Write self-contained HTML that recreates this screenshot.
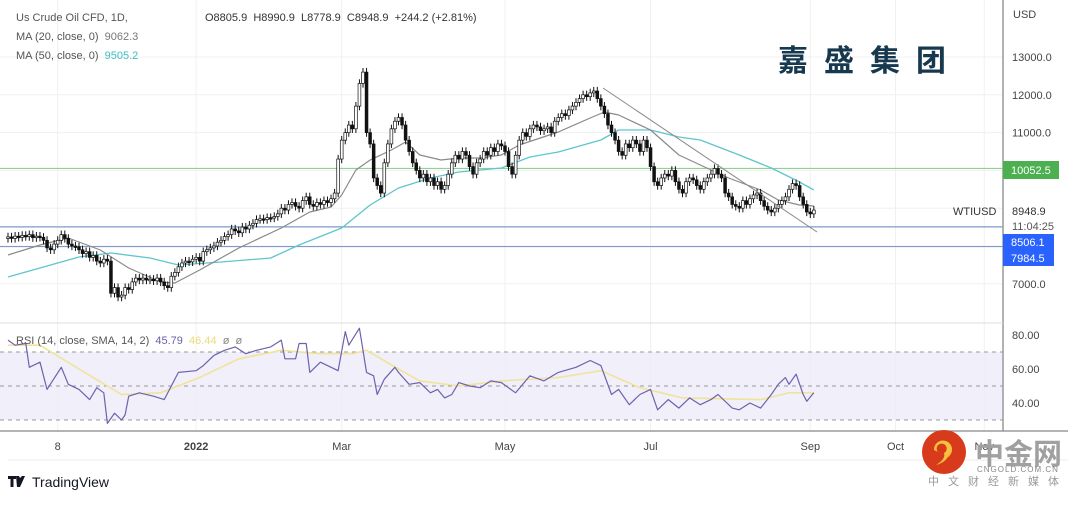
<!DOCTYPE html>
<html><head><meta charset="utf-8">
<style>
html,body{margin:0;padding:0;background:#fff;}
body{width:1080px;height:500px;position:relative;overflow:hidden;font-family:"Liberation Sans","Noto Sans CJK SC",sans-serif;}
svg text{font-family:"Liberation Sans","Noto Sans CJK SC",sans-serif;}
</style></head>
<body>
<svg id="chart" width="1080" height="500" viewBox="0 0 1080 500" xmlns="http://www.w3.org/2000/svg">
  <g id="grid"></g>
  <rect x="0" y="352" width="1003" height="68" fill="#eeebf8" opacity="0.8"/>
  <g id="levels"></g>
  <g id="ma50"></g>
  <g id="ma20"></g>
  <g id="candles"></g>
  <line x1="603" y1="88" x2="817" y2="232" stroke="#888" stroke-width="1"/>
  <g id="rsi"></g>
  <line x1="1003" y1="0" x2="1003" y2="431" stroke="#999" stroke-width="1.5"/>
  <line x1="0" y1="323" x2="1003" y2="323" stroke="#ddd" stroke-width="1"/>
  <line x1="0" y1="431" x2="1068" y2="431" stroke="#888" stroke-width="1.2"/>
  <line x1="8" y1="460" x2="1068" y2="460" stroke="#eee" stroke-width="1"/>
  <g id="yaxis" font-size="11" fill="#444"></g>
  <g id="xaxis" font-size="11" fill="#444"></g>
  <g font-size="11" fill="#555">
    <text x="16" y="21">Us Crude Oil CFD, 1D,</text>
    <text x="205" y="21" fill="#333">O8805.9&#160; H8990.9&#160; L8778.9&#160; C8948.9&#160; +244.2 (+2.81%)</text>
    <text x="16" y="40">MA (20, close, 0)&#160; <tspan fill="#777">9062.3</tspan></text>
    <text x="16" y="59">MA (50, close, 0)&#160; <tspan fill="#3bbcc4">9505.2</tspan></text>
    <text x="16" y="344">RSI (14, close, SMA, 14, 2)&#160; <tspan fill="#6b5fa8">45.79</tspan>&#160; <tspan fill="#ecd97a">46.44</tspan>&#160; <tspan fill="#888">ø&#160; ø</tspan></text>
  </g>
  <text x="778" y="71" font-size="30" font-weight="bold" fill="#17394f" letter-spacing="16" style="font-family:'Noto Sans CJK SC',sans-serif">嘉盛集团</text>
  <rect x="1003" y="161" width="56" height="18" fill="#4caf50"/>
  <text x="1011" y="174" font-size="11" fill="#fff">10052.5</text>
  <text x="953" y="215" font-size="11" fill="#333">WTIUSD</text>
  <text x="1012" y="215" font-size="11" fill="#333">8948.9</text>
  <text x="1012" y="230" font-size="11" fill="#555">11:04:25</text>
  <rect x="1003" y="234" width="51" height="16" fill="#2962ff"/>
  <text x="1011" y="246" font-size="11" fill="#fff">8506.1</text>
  <rect x="1003" y="250" width="51" height="16" fill="#2962ff"/>
  <text x="1011" y="262" font-size="11" fill="#fff">7984.5</text>
  <g>
    <path d="M8 476h8v3h-2.5v8h-3v-8H8z M16 476h3l1 2 2-2h3l-5 11h-3z" fill="#131722"/>
    <text x="32" y="487" font-size="14" fill="#131722">TradingView</text>
  </g>
  <g>
    <circle cx="944" cy="452" r="22" fill="#d83a1c"/>
    <path d="M934 450a9 9 0 1 1 14 7q-4 6-12 8q10-6 8-12a5 5 0 1 0-6-1z" fill="#f6c23e"/>
    <text x="975" y="464" font-size="29" font-weight="bold" fill="#a0a0a0" style="font-family:'Noto Sans CJK SC',sans-serif">中金网</text>
    <text x="977" y="472" font-size="8" fill="#888" letter-spacing="1">CNGOLD.COM.CN</text>
    <text x="928" y="485" font-size="11" fill="#999" letter-spacing="9" style="font-family:'Noto Sans CJK SC',sans-serif">中文财经新媒体</text>
  </g>
</svg>
<script>
const closes = [
8240,8200,8260,8230,8280,8250,8300,8220,8260,8230,
8150,7950,7900,8050,8150,8300,8200,8050,8000,7980,
7900,7800,7850,7700,7750,7600,7550,7650,7600,6750,
6900,6650,6700,6900,6850,7050,7150,7100,7150,7100,
7120,7080,7150,7050,6950,6900,7200,7300,7450,7550,
7600,7580,7650,7700,7600,7850,7900,7950,8000,8100,
8150,8250,8300,8450,8400,8350,8500,8450,8550,8600,
8700,8720,8700,8750,8740,8780,8850,9000,8950,9100,
9150,9050,9000,9200,9300,9100,9050,9150,9100,9200,
9150,9250,9400,10300,10800,11000,11200,11100,11700,12300,
12600,11000,10700,9800,9600,9400,10200,10700,11100,11300,
11400,11200,10800,10500,10200,10000,9800,9900,9700,9800,
9600,9700,9500,9600,9900,10200,10400,10300,10500,10400,
10100,9900,10200,10300,10500,10400,10600,10500,10700,10650,
10500,10100,9900,10400,10800,11000,10900,11100,11200,11150,
11050,11100,11150,11000,11300,11400,11500,11450,11600,11700,
11800,11900,12000,11950,12050,12100,11900,11700,11500,11200,
11000,10800,10500,10400,10700,10600,10800,10700,10500,10800,
10600,10100,9700,9600,9800,9900,9850,10000,9700,9500,
9400,9700,9800,9750,9600,9500,9700,9800,9900,10050,
9900,9800,9400,9300,9100,9050,9000,9200,9100,9250,
9350,9400,9200,9050,8950,8900,9000,9100,9200,9300,
9500,9650,9600,9300,9100,8900,8850,8950];
const firstOpen = 8200;
const ma20Bars = [0,9,17,26,34,43,47,54,65,77,85,91,94,98,102,108,112,116,122,127,133,139,144,155,164,168,172,181,189,195,203,212,217,223,227];
const ma20Vals = [7762,8027,8212,7894,7418,7048,7021,7365,7947,8476,8899,9032,9349,10011,10275,10540,10751,10407,10275,10328,10328,10407,10672,11016,11386,11545,11466,11069,10407,10143,9799,9481,9217,9085,9058];
const ma50Bars = [0,12,20,29,40,48,60,74,82,94,102,110,119,127,139,147,155,167,172,181,189,195,206,215,223,227];
const ma50Vals = [7180,7497,7709,7815,7683,7497,7577,7683,8026,8476,9085,9534,9799,9958,10063,10355,10487,10804,11069,11069,10884,10804,10407,10063,9693,9481];
const rsiBars = [0,2,5,6,9,11,15,17,20,23,25,27,28,30,32,33,34,37,41,44,46,48,53,55,58,61,64,67,70,74,77,78,81,82,84,85,88,91,93,95,96,99,100,101,103,104,106,109,110,113,116,119,121,123,125,127,130,133,136,139,143,147,151,155,160,164,167,170,172,175,178,181,183,186,189,192,195,198,200,204,206,209,212,215,217,219,220,222,224,225,227];
const rsiVals = [77,74,75,61,64,48,61,51,48,42,49,46,28,34,30,33,44,46,44,42,50,58,59,62,68,71,73,69,71,73,77,66,66,75,75,58,64,61,59,82,74,84,71,58,56,45,54,61,58,51,52,46,48,43,45,52,50,49,53,52,46,56,53,58,61,65,62,45,48,39,45,48,36,42,37,43,39,42,45,37,36,40,37,45,51,55,51,57,45,41,46];
const rsiMaBars = [0,9,20,32,43,54,65,77,88,97,101,110,116,127,139,155,167,178,190,212,220,227];
const rsiMaVals = [74,74,60,45,46,55,66,71,69,69,71,60,53,50,53,55,59,49,43,42,46,46];
const priceTicks = [13000,12000,11000,10000,9000,8000,7000];
const rsiTicks = [80,60,40];
const levelPrices = [10052.5,8506.1,7984.5];
const timeLabels = ["8","2022","Mar","May","Jul","Sep","Oct","Nov"];
const timeLabelBars = [14,53,94,140,181,226,250,275];

const NS="http://www.w3.org/2000/svg";
const X = b => 8 + b*3.55;
const Y = p => 57 + (13000-p)*0.0378;
const RY = v => 335 + (80-v)*1.7;
function mk(tag, attrs, parent){const e=document.createElementNS(NS,tag);for(const k in attrs)e.setAttribute(k,attrs[k]);parent.appendChild(e);return e;}

const grid=document.getElementById('grid');
priceTicks.forEach(p=>{
  const l=mk('line',{x1:0,x2:1003,y1:Y(p),y2:Y(p),stroke:'#f0f0f0','stroke-width':1},grid);
  
  
});
timeLabelBars.forEach(b=>{
  const l=mk('line',{x1:X(b),x2:X(b),y1:0,y2:431,stroke:'#f0f0f0','stroke-width':1},grid);
  
  
});

const lv=document.getElementById('levels');
levelPrices.forEach((p,i)=>{
  const l=mk('line',{x1:0,x2:1003,y1:Y(p),y2:Y(p),stroke:i===0?'#8fd18f':'#7f9bc8','stroke-width':1.2},lv);
  
  
});

function poly(bars, vals, fy, color, w, gid, name){
  const g=document.getElementById(gid);
  const pts=bars.map((b,i)=>X(b).toFixed(1)+','+fy(vals[i]).toFixed(1)).join(' ');
  const pl=mk('polyline',{points:pts,fill:'none',stroke:color,'stroke-width':w,'stroke-linejoin':'round'},g);
  
  
}
poly(ma50Bars,ma50Vals,Y,'#5ec6cc',1.3,'ma50','ma50-path');
poly(ma20Bars,ma20Vals,Y,'#8a8a8a',1.2,'ma20','ma20-path');

const cg=document.getElementById('candles');
const wick=110;
closes.forEach((c,i)=>{
  const o = i===0?firstOpen:closes[i-1];
  const hi=Math.max(o,c)+wick, lo=Math.min(o,c)-wick;
  const x=X(i);
  const w=mk('line',{x1:x,x2:x,y1:Y(hi),y2:Y(lo),stroke:'#111','stroke-width':1},cg);
  
  
  const top=Y(Math.max(o,c)), h=Math.max(1.5,Y(Math.min(o,c))-top);
  const r=mk('rect',{x:x-1.4,y:top,width:2.8,height:h,fill:c>=o?'#fff':'#111',stroke:'#111','stroke-width':0.7},cg);
  
  
});

const rg=document.getElementById('rsi');
[70,50,30].forEach(v=>{
  const l=mk('line',{x1:0,x2:1003,y1:RY(v),y2:RY(v),stroke:'#9a9a9a','stroke-width':1,'stroke-dasharray':'4 4'},rg);
  
  
});
poly(rsiMaBars,rsiMaVals,RY,'#f0e39a',1.6,'rsi','rsi-ma-path');
poly(rsiBars,rsiVals,RY,'#6e62ad',1.2,'rsi','rsi-path');

const ya=document.getElementById('yaxis');
const u=mk('text',{x:1013,y:18},ya); u.textContent='USD';


priceTicks.forEach(p=>{
  if(p===9000||p===8000||p===10000) return;
  const t=mk('text',{x:1012,y:Y(p)+4},ya); t.textContent=p.toFixed(1);
  
  
});
rsiTicks.forEach(v=>{
  const t=mk('text',{x:1012,y:RY(v)+4},ya); t.textContent=v.toFixed(2);
  
  
});
const xa=document.getElementById('xaxis');
timeLabels.forEach((s,i)=>{
  const t=mk('text',{x:X(timeLabelBars[i]),y:450,'text-anchor':'middle'},xa); t.textContent=s;
  if(s==='2022'){t.setAttribute('font-weight','bold');}
  
  
});
</script>
</body></html>
